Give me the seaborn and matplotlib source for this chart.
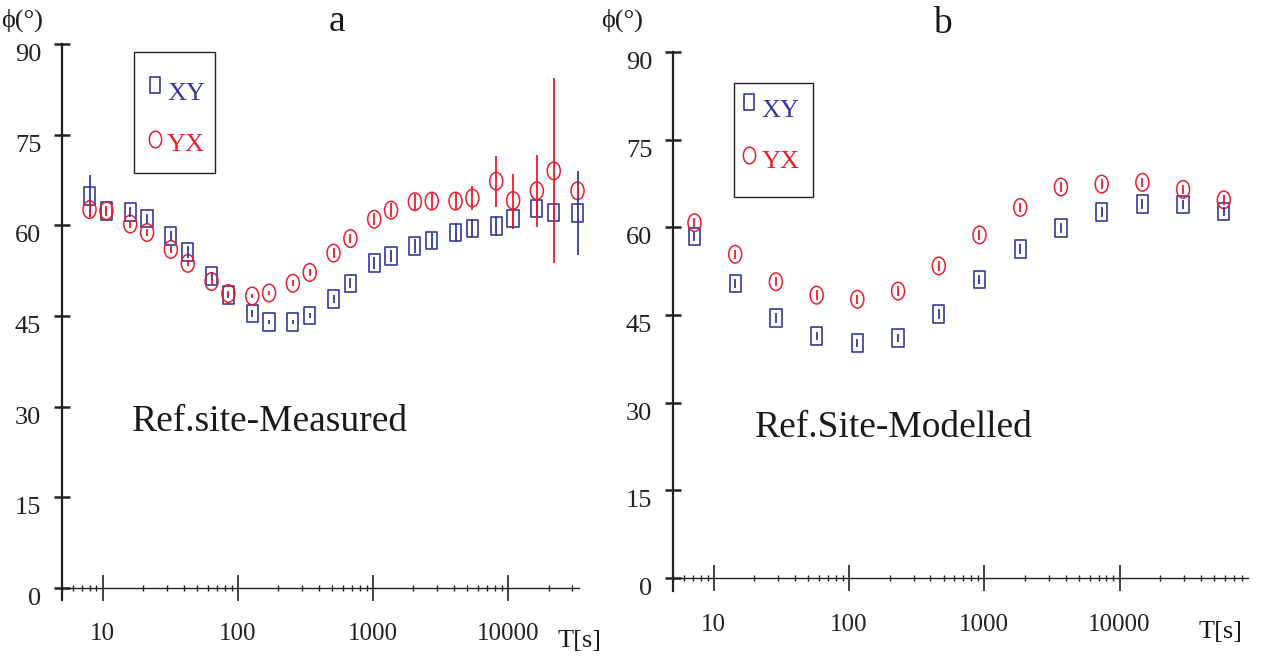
import numpy as np
import matplotlib
matplotlib.use("Agg")
import matplotlib.pyplot as plt
import seaborn as sns
from matplotlib.path import Path
from matplotlib.patches import Rectangle
from matplotlib.transforms import Affine2D
from matplotlib.ticker import FixedLocator, LogLocator, NullFormatter

# ---------------- data ----------------
period_a = [8, 10.67, 16, 21.33, 32, 42.67, 64, 85.33, 128, 170.7, 256, 341.3, 512,
            682.7, 1024, 1365, 2048, 2731, 4096, 5461, 8192, 10923, 16384, 21845, 32768]
xy_a = [64.8, 62.4, 62.2, 61.1, 58.2, 55.6, 51.6, 48.5, 45.4, 44.0, 44.0, 45.1, 47.8,
        50.4, 53.8, 54.9, 56.6, 57.5, 58.8, 59.5, 59.9, 61.1, 62.8, 62.1, 62.0]
xy_err_a = [3.5, 0.5, 0.8, 0.8, 0.8, 1.0, 0.6, 0.5, 0.5, 0.4, 0.4, 0.4, 0.6,
            0.8, 1.0, 1.0, 1.2, 1.3, 1.5, 1.5, 1.6, 1.8, 1.2, 1.0, 7.0]
yx_a = [62.6, 62.4, 60.2, 58.8, 56.0, 53.7, 50.7, 48.7, 48.3, 48.8, 50.4, 52.2, 55.4,
        57.8, 61.0, 62.5, 63.9, 64.0, 64.0, 64.5, 67.3, 64.1, 65.7, 69.0, 65.7]
yx_err_a = [1.2, 0.8, 0.6, 0.6, 0.6, 0.5, 0.4, 0.4, 0.3, 0.4, 0.5, 0.6, 0.8,
            0.8, 1.0, 1.2, 1.3, 1.4, 1.5, 2.0, 4.2, 4.4, 6.0, 15.3, 1.0]

period_b = [7.2, 14.4, 28.8, 57.6, 115.2, 230.4, 460.8, 921.6, 1843, 3686, 7373,
            14746, 29491, 58982]
xy_b = [58.4, 50.4, 44.5, 41.4, 40.2, 41.1, 45.2, 51.1, 56.3, 59.9, 62.6, 64.0, 63.9, 62.7]
xy_err_b = [0.8, 0.8, 0.8, 0.7, 0.7, 0.7, 0.8, 0.8, 0.8, 0.8, 0.8, 0.8, 0.8, 0.8]
yx_b = [60.8, 55.4, 50.7, 48.4, 47.7, 49.1, 53.4, 58.7, 63.4, 66.9, 67.4, 67.7, 66.5, 64.7]
yx_err_b = [0.8, 0.8, 0.8, 0.8, 0.8, 0.8, 0.8, 0.8, 0.8, 0.8, 0.8, 0.8, 0.8, 0.8]

y_ticks = [0, 15, 30, 45, 60, 75, 90]
x_ticks = [10, 100, 1000, 10000]
x_tick_labels = ["10", "100", "1000", "10000"]
series_labels = ["XY", "YX"]
panel_titles = ["a", "b"]
panel_notes = ["Ref.site-Measured", "Ref.Site-Modelled"]

BLUE = "#33399A"
RED = "#EA1D2C"
INK = "#1a1a1a"

sns.set_theme(style="white")
plt.rcParams["font.family"] = ["Liberation Serif", "DejaVu Serif"]

# tall (vertically stretched) markers as in the reference
rect_marker = Path([(-0.64, -1), (0.64, -1), (0.64, 1), (-0.64, 1), (-0.64, -1)],
                   [Path.MOVETO, Path.LINETO, Path.LINETO, Path.LINETO, Path.CLOSEPOLY])
ell_marker = Affine2D().scale(0.74, 1.0).transform_path(Path.unit_circle())

fig = plt.figure(figsize=(12.62, 6.62), dpi=100)
ax_a = fig.add_axes([0.0491, 0.0937, 0.4097, 0.8399])
ax_b = fig.add_axes([0.5333, 0.1073, 0.4556, 0.8142])


def draw_panel(ax, period, xy, xy_err, yx, yx_err, xlim, ylim, note, note_pos, leg):
    ax.set_xscale("log")
    for e in (ax.errorbar(period, xy, yerr=xy_err, fmt="none", ecolor=BLUE,
                          elinewidth=1.3, capsize=0),
              ax.errorbar(period, yx, yerr=yx_err, fmt="none", ecolor=RED,
                          elinewidth=1.3, capsize=0)):
        for art in e.lines[2]:
            art.set_clip_on(False)
    sns.scatterplot(x=period, y=xy, marker=rect_marker, s=160, color=BLUE, ax=ax)
    c_xy = ax.collections[-1]
    c_xy.set_facecolor("none"); c_xy.set_edgecolor(BLUE); c_xy.set_linewidth(1.2)
    c_xy.set_clip_on(False)
    sns.scatterplot(x=period, y=yx, marker=ell_marker, s=160, color=RED, ax=ax)
    c_yx = ax.collections[-1]
    c_yx.set_facecolor("none"); c_yx.set_edgecolor(RED); c_yx.set_linewidth(1.1)
    c_yx.set_clip_on(False)

    ax.set_xlim(*xlim)
    ax.set_ylim(*ylim)
    for s in ["top", "right"]:
        ax.spines[s].set_visible(False)
    ax.spines["bottom"].set_position(("data", 0))
    ax.spines["bottom"].set_color("#222222")
    ax.spines["left"].set_color("#222222")
    ax.spines["bottom"].set_linewidth(1.0)
    ax.spines["left"].set_linewidth(1.6)
    ax.patch.set_alpha(0)

    ax.xaxis.set_major_locator(FixedLocator(x_ticks))
    ax.set_xticklabels(x_tick_labels)
    ax.xaxis.set_minor_locator(LogLocator(base=10, subs=np.arange(2, 10), numticks=20))
    ax.xaxis.set_minor_formatter(NullFormatter())
    ax.set_yticks(y_ticks)
    ax.set_yticklabels([str(v) for v in y_ticks])
    ax.tick_params(axis="x", which="major", direction="inout", length=19, width=1.2,
                   pad=16, labelsize=18, colors="#222222", bottom=True)
    ax.tick_params(axis="x", which="minor", direction="inout", length=5, width=1.0,
                   colors="#222222", bottom=True)
    ax.tick_params(axis="y", which="major", direction="inout", length=12, width=1.8,
                   pad=9, labelsize=19, colors="#222222", left=True)
    for lab in ax.get_yticklabels():
        lab.set_va("top")
    ax.set_xlabel(""); ax.set_ylabel("")
    ax.grid(False)

    ax.text(note_pos[0], note_pos[1], note, transform=ax.transAxes, fontsize=27,
            color=INK, va="center", ha="left")

    # legend box (drawn as a key inside axes coordinates)
    (bx0, by0, bx1, by1), mx, (my1, my2), tx, (ty1, ty2) = leg
    ax.add_patch(Rectangle((bx0, by0), bx1 - bx0, by1 - by0, transform=ax.transAxes,
                           facecolor="white", edgecolor="#222222", linewidth=1.0,
                           zorder=5))
    ax.plot([mx], [my1], marker=rect_marker, markersize=12, mfc="none", mec=BLUE,
            mew=1.2, ls="none", transform=ax.transAxes, zorder=6)
    ax.plot([mx], [my2], marker=ell_marker, markersize=12, mfc="none", mec=RED,
            mew=1.1, ls="none", transform=ax.transAxes, zorder=6)
    ax.text(tx, ty1, series_labels[0], color=BLUE, fontsize=19, transform=ax.transAxes,
            ha="left", va="center", zorder=6)
    ax.text(tx, ty2, series_labels[1], color=RED, fontsize=19, transform=ax.transAxes,
            ha="left", va="center", zorder=6)


draw_panel(ax_a, period_a, xy_a, xy_err_a, yx_a, yx_err_a, (5, 33600), (-2, 90),
           panel_notes[0], (0.1354, 0.320),
           ((0.139, 0.768, 0.296, 0.986), 0.180, (0.926, 0.829), 0.203, (0.910, 0.818)))
draw_panel(ax_b, period_b, xy_b, xy_err_b, yx_b, yx_err_b, (5, 89000), (-2.2, 90),
           panel_notes[1], (0.1417, 0.3024),
           ((0.1054, 0.7304, 0.2430, 0.943), 0.133, (0.907, 0.809), 0.154, (0.890, 0.795)))

W, H = 1262, 662
fig.text(337 / W, 1 - 22 / H, panel_titles[0], fontsize=27, ha="center", va="center", color=INK)
fig.text(942 / W, 1 - 24 / H, panel_titles[1], fontsize=27, ha="center", va="center", color=INK)
for xc in (22, 622):
    fig.text(xc / W, 1 - 20 / H, "ϕ(°)", fontsize=19, ha="center", va="center", color=INK)
fig.text(580 / W, 1 - 641 / H, "T[s]", fontsize=19, ha="center", va="center", color=INK)
fig.text(1221 / W, 1 - 632 / H, "T[s]", fontsize=19, ha="center", va="center", color=INK)

fig.savefig("out.png", dpi=100)
